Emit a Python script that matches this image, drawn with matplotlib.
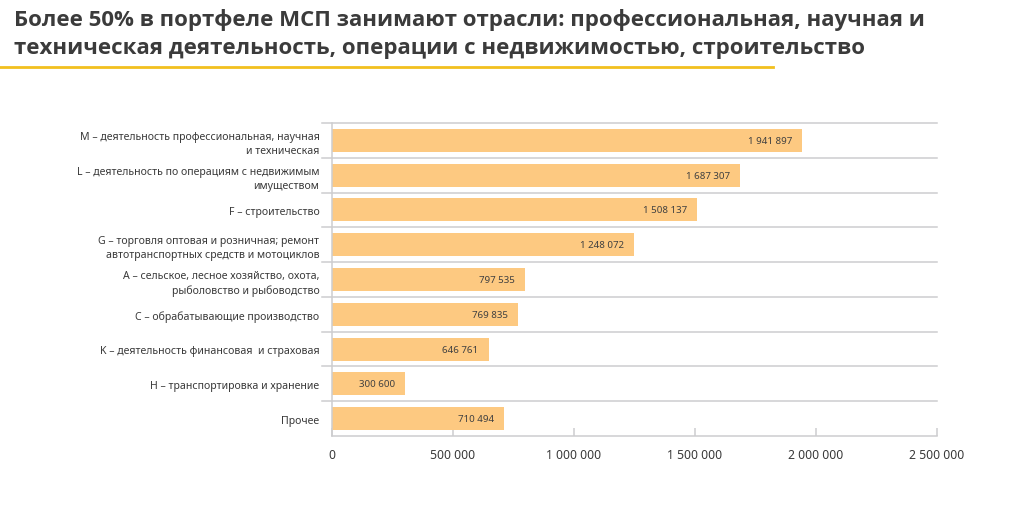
import matplotlib
matplotlib.use("Agg")
import matplotlib.pyplot as plt
import matplotlib.transforms as mtransforms
from matplotlib.ticker import FuncFormatter

categories = [
    "M – деятельность профессиональная, научная\nи техническая",
    "L – деятельность по операциям с недвижимым\nимуществом",
    "F – строительство",
    "G – торговля оптовая и розничная; ремонт\nавтотранспортных средств и мотоциклов",
    "A – сельское, лесное хозяйство, охота,\nрыболовство и рыбоводство",
    "C – обрабатывающие производство",
    "K – деятельность финансовая  и страховая",
    "H – транспортировка и хранение",
    "Прочее",
]
values = [1941897, 1687307, 1508137, 1248072, 797535, 769835, 646761, 300600, 710494]
xticks = [0, 500000, 1000000, 1500000, 2000000, 2500000]
title_lines = [
    "Более 50% в портфеле МСП занимают отрасли: профессиональная, научная и",
    "техническая деятельность, операции с недвижимостью, строительство",
]

def fmt(v, pos=None):
    return f"{int(v):,}".replace(",", " ")

plt.rcParams['font.family'] = ['Noto Sans', 'DejaVu Sans']

W, H = 1024, 510
fig = plt.figure(figsize=(W / 100, H / 100), dpi=100)
fig.patch.set_facecolor("white")

x0, x1, ytop, ybot = 332, 937, 124, 437
ax = fig.add_axes([x0 / W, 1 - ybot / H, (x1 - x0) / W, (ybot - ytop) / H])

n = len(categories)
ypos = list(range(n))
bar_color = "#fdc981"
grid_color = "#cdcdcf"
ax.barh(ypos, values, height=0.66, color=bar_color, zorder=2)
ax.set_ylim(n - 0.5, -0.5)
ax.set_xlim(0, 2500000)

ax.set_yticks(ypos)
ax.set_yticklabels(categories, fontsize=7.6, color="#3a3a3a", linespacing=1.4)
ax.tick_params(axis="y", length=0, pad=9)

ax.set_xticks(xticks)
ax.xaxis.set_major_formatter(FuncFormatter(fmt))
ax.tick_params(axis="x", direction="in", length=6, width=1.1, color=grid_color,
               labelsize=8.8, labelcolor="#3a3a3a", pad=9)

for s in ["top", "right"]:
    ax.spines[s].set_visible(False)
for s in ["left", "bottom"]:
    ax.spines[s].set_color(grid_color)
    ax.spines[s].set_linewidth(1.1)

trans = mtransforms.blended_transform_factory(ax.transAxes, ax.transData)
xl = -10 / (x1 - x0)
for i in range(n):
    yb = i - 0.5
    ax.plot([xl, 1], [yb, yb], color=grid_color, lw=1.1, transform=trans,
            clip_on=False, zorder=1)

for i, v in enumerate(values):
    ax.text(v, i, fmt(v), ha="right", va="center", fontsize=7, color="#404040",
            transform=mtransforms.offset_copy(ax.transData, fig=fig, x=-10, y=0, units="dots"),
            zorder=3)

for k, yb in enumerate([26, 54]):
    fig.text(14 / W, 1 - yb / H, title_lines[k], fontsize=16, fontweight="bold",
             color="#3b3b3b", ha="left", va="baseline", family=["Open Sans", "DejaVu Sans"])
fig.add_artist(plt.Line2D([0, 773 / W], [1 - 68 / H, 1 - 68 / H], color="#f2c01e", lw=2,
                          transform=fig.transFigure))

fig.savefig("out.png", dpi=100)
